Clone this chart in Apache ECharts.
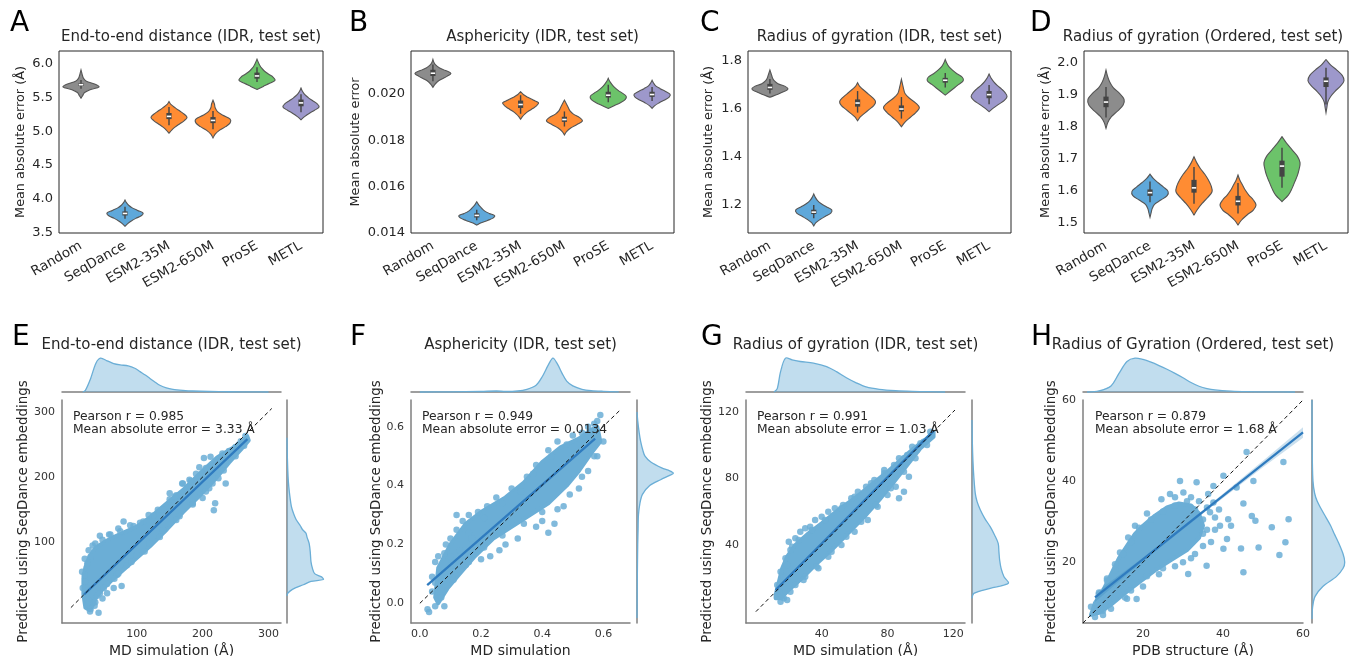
<!DOCTYPE html>
<html><head><meta charset="utf-8">
<script src="https://cdn.jsdelivr.net/npm/echarts@6.0.0/dist/echarts.min.js"></script>
<style>html,body{margin:0;padding:0;background:#fff}#c{width:1349px;height:656px}</style>
</head><body><div id="c"></div>
<script>
// ---------------- DATA ----------------
const categories = ['Random','SeqDance','ESM2-35M','ESM2-650M','ProSE','METL'];
const violinColors = ['#8c8c8c','#5fa8da','#ff8c33','#ff8c33','#6cc36a','#9d98cb'];

// Panel A: end-to-end distance MAE. ext=[min,max], box=[whiskerLo,q1,median,q3,whiskerHi], wid=density profile (min..max)
const aRange = [3.49, 6.19];
const aTicks = [3.5, 4.0, 4.5, 5.0, 5.5, 6.0];
const aExt = [[5.49,5.91],[3.59,3.98],[4.97,5.44],[4.9,5.46],[5.62,6.07],[5.17,5.64]];
const aBox = [[5.63,5.67,5.69,5.71,5.76],[3.70,3.75,3.78,3.81,3.88],[5.09,5.18,5.22,5.27,5.36],[5.03,5.12,5.16,5.21,5.30],[5.73,5.78,5.82,5.87,5.95],[5.28,5.37,5.42,5.47,5.55]];
const aWid = [
 [0,0.1,0.2,0.5,1,0.75,0.3,0.14,0.08,0.04,0],
 [0,0.15,0.35,0.6,0.9,1,0.7,0.4,0.2,0.08,0],
 [0,0.15,0.35,0.6,0.85,1,0.85,0.6,0.35,0.12,0],
 [0,0.12,0.35,0.7,0.95,0.95,0.55,0.25,0.12,0.08,0],
 [0,0.35,0.7,1,0.9,0.65,0.42,0.26,0.15,0.07,0],
 [0,0.2,0.45,0.75,1,0.9,0.65,0.4,0.2,0.08,0]];

// Panel B: asphericity MAE
const bRange = [0.014, 0.02186];
const bTicks = [0.014, 0.016, 0.018, 0.020];
const bExt = [[0.02029,0.0215],[0.01434,0.01535],[0.01891,0.0201],[0.01823,0.01974],[0.01938,0.02068],[0.01938,0.0206]];
const bBox = [[0.02055,0.02078,0.0209,0.02105,0.02128],[0.01455,0.01467,0.01476,0.01485,0.015],[0.01915,0.0194,0.01955,0.01972,0.01995],[0.0186,0.0188,0.0189,0.01902,0.01925],[0.01965,0.01985,0.01995,0.0201,0.0204],[0.0197,0.01988,0.01998,0.0201,0.0203]];
const bWid = [
 [0,0.1,0.25,0.5,0.8,1,0.7,0.35,0.15,0.05,0],
 [0,0.25,0.6,0.9,1,0.7,0.45,0.3,0.18,0.08,0],
 [0,0.1,0.25,0.45,0.7,0.9,1,0.7,0.4,0.15,0],
 [0,0.12,0.35,0.7,1,0.85,0.5,0.3,0.2,0.1,0],
 [0,0.35,0.7,0.95,1,0.8,0.55,0.35,0.2,0.08,0],
 [0,0.15,0.4,0.7,0.95,1,0.75,0.45,0.2,0.08,0]];

// Panel C: radius of gyration (IDR) MAE
const cRange = [1.083, 1.842];
const cTicks = [1.2, 1.4, 1.6, 1.8];
const cExt = [[1.649,1.7625],[1.1125,1.246],[1.551,1.71],[1.526,1.724],[1.658,1.807],[1.589,1.746]];
const cBox = [[1.665,1.68,1.69,1.705,1.725],[1.145,1.162,1.17,1.18,1.2],[1.585,1.61,1.625,1.64,1.675],[1.56,1.59,1.6,1.615,1.65],[1.69,1.71,1.72,1.73,1.75],[1.62,1.645,1.66,1.675,1.7]];
const cWid = [
 [0,0.4,0.75,1,0.85,0.45,0.25,0.15,0.1,0.05,0],
 [0,0.12,0.35,0.65,0.95,1,0.7,0.4,0.2,0.08,0],
 [0,0.15,0.4,0.65,0.9,1,0.85,0.6,0.35,0.12,0],
 [0,0.2,0.5,0.8,1,0.8,0.45,0.2,0.12,0.06,0],
 [0,0.25,0.5,0.75,1,0.95,0.65,0.4,0.2,0.08,0],
 [0,0.25,0.55,0.85,1,0.9,0.7,0.45,0.25,0.1,0]];

// Panel D: radius of gyration (Ordered) MAE
const dRange = [1.469, 2.0375];
const dTicks = [1.5, 1.6, 1.7, 1.8, 1.9, 2.0];
const dExt = [[1.796,1.978],[1.518,1.653],[1.525,1.707],[1.494,1.65],[1.567,1.77],[1.845,2.011]];
const dBox = [[1.83,1.862,1.878,1.895,1.925],[1.565,1.585,1.595,1.605,1.63],[1.56,1.595,1.61,1.635,1.675],[1.53,1.555,1.568,1.585,1.625],[1.61,1.645,1.678,1.695,1.735],[1.87,1.925,1.943,1.955,1.985]];
const dWid = [
 [0,0.1,0.3,0.65,0.95,1,0.75,0.4,0.2,0.08,0],
 [0,0.06,0.12,0.25,0.6,0.95,1,0.75,0.45,0.18,0],
 [0,0.2,0.45,0.75,1,0.95,0.8,0.6,0.35,0.15,0],
 [0,0.2,0.5,0.85,1,0.85,0.6,0.4,0.25,0.1,0],
 [0,0.35,0.55,0.7,0.85,0.95,1,0.85,0.55,0.25,0],
 [0,0.05,0.1,0.25,0.5,0.8,1,0.9,0.6,0.25,0]];

// Panel E: end-to-end distance scatter
const eX = [-13.5, 319], eY = [-23.6, 318];
const eTicks = [100, 200, 300];
const eCloud = [[22,0],[19,20],[19,45],[22,62],[28,78],[38,92],[50,100],[65,108],[80,115],[100,124],[120,138],[146,160],[170,180],[196,206],[222,230],[245,244],[262,256],[268,262],
 [270,256],[258,242],[240,222],[222,200],[196,172],[170,146],[146,120],[120,94],[100,76],[80,58],[60,40],[48,28],[38,15],[33,3],[28,-4]];
const ePoints = [[34,8],[42,-8],[26,12],[30,-2],[36,3],[77,33],[65,30],[55,22],[48,14],[40,18],[24,30],[22,40],[21,50],[25,68],[30,78],[37,98],[44,110],[72,121],[80,132],[60,112],[95,125],[110,132],[125,141],[140,150],[150,166],[160,172],[170,190],[180,196],[169,190],[190,205],[202,229],[212,231],[229,231],[235,225],[240,240],[250,246],[258,255],[265,263],[222,222],[217,149],[219,160],[235,190],[224,198],[210,183],[200,168],[185,160],[165,140],[140,118],[120,98],[100,80],[85,65],[70,50],[150,175],[195,215],[208,211],
 [18,30],[17,55],[21,75],[27,88],[33,95],[48,104],[58,112],[75,117],[90,126],[105,130],[118,142],[132,150],[158,170],[182,194],[205,214],[230,236],[255,250],[263,248],[250,232],[232,210],[215,190],[205,178],[185,158],[160,134],[135,108],[112,86],[92,70],[72,52],[55,36],[44,22],[37,8],[29,-6],[50,30],[66,44]];
const eReg = [[20,20],[268,258]];
const eIdent = [[0,0],[305,305]];
const eTopKde = [[18,0],[22,5],[30,40],[38,85],[45,100],[55,92],[65,84],[75,80],[87,77],[97,70],[105,60],[113,50],[120,40],[128,29],[135,20],[145,12],[155,8],[170,5],[185,3],[210,1.5],[240,0.8],[280,0.3],[300,0]];
const eRightKde = [[18,0],[22,2],[28,15],[35,45],[40,66],[43,100],[47,95],[52,76],[60,70],[70,66],[85,64],[98,61],[108,55],[114,52],[120,42],[125,37],[135,25],[144,18],[155,12],[170,8],[185,5],[200,3],[230,1],[260,0]];

// Panel F: asphericity scatter
const fX = [-0.029, 0.687], fY = [-0.067, 0.691];
const fTicks = [0, 0.2, 0.4, 0.6];
const fCloud = [[0.05,0.02],[0.06,0.12],[0.1,0.2],[0.15,0.27],[0.2,0.31],[0.28,0.36],[0.34,0.41],[0.4,0.48],[0.46,0.53],[0.52,0.56],[0.56,0.59],[0.58,0.6],
 [0.59,0.55],[0.56,0.51],[0.52,0.45],[0.48,0.4],[0.42,0.34],[0.36,0.3],[0.3,0.26],[0.24,0.22],[0.18,0.16],[0.13,0.1],[0.09,0.05],[0.06,0.0]];
const fPoints = [[0.03,-0.03],[0.025,-0.02],[0.08,-0.01],[0.04,0.04],[0.05,0.07],[0.07,0.1],[0.06,0.16],[0.085,0.2],[0.1,0.22],[0.12,0.25],[0.12,0.3],[0.14,0.28],[0.16,0.3],[0.19,0.31],[0.22,0.33],[0.25,0.36],[0.3,0.39],[0.35,0.43],[0.38,0.47],[0.42,0.52],[0.45,0.55],[0.5,0.57],[0.55,0.6],[0.59,0.64],[0.57,0.61],[0.11,0.13],[0.15,0.13],[0.2,0.15],[0.23,0.16],[0.26,0.18],[0.28,0.2],[0.32,0.22],[0.42,0.24],[0.44,0.27],[0.4,0.28],[0.38,0.26],[0.47,0.33],[0.52,0.39],[0.55,0.45],[0.58,0.5],[0.6,0.55],[0.09,0.08],[0.13,0.18],[0.17,0.22],
 [0.04,0.09],[0.05,0.14],[0.08,0.17],[0.1,0.16],[0.16,0.24],[0.21,0.29],[0.27,0.34],[0.33,0.38],[0.37,0.44],[0.43,0.5],[0.48,0.54],[0.53,0.58],[0.58,0.62],[0.57,0.5],[0.53,0.43],[0.49,0.37],[0.45,0.32],[0.4,0.31],[0.34,0.27],[0.27,0.23],[0.21,0.19],[0.16,0.14],[0.11,0.08],[0.07,0.02],[0.05,-0.01]];
const fReg = [[0.024,0.062],[0.573,0.56]];
const fIdent = [[0,0],[0.655,0.657]];
const fTopKde = [[0.0,0],[0.1,0.5],[0.2,1.5],[0.25,3],[0.28,1.5],[0.32,3],[0.35,8],[0.38,20],[0.4,45],[0.42,80],[0.435,100],[0.45,82],[0.465,55],[0.48,32],[0.5,18],[0.53,8],[0.56,4],[0.6,2],[0.65,0.5]];
const fRightKde = [[-0.05,0],[0.1,1],[0.2,2],[0.25,3],[0.3,4],[0.34,8],[0.37,15],[0.4,35],[0.42,65],[0.435,90],[0.442,100],[0.45,90],[0.46,68],[0.48,38],[0.5,22],[0.52,16],[0.55,10],[0.58,6],[0.62,2],[0.65,0]];

// Panel G: radius of gyration (IDR) scatter
const gX = [-6, 127.1], gY = [-6.8, 127];
const gTicks = [40, 80, 120];
const gCloud = [[12,10],[14,18],[16,26],[19,33],[24,40],[32,47],[40,53],[50,61],[60,68],[70,76],[80,84],[88,91],[96,98],[104,104],[108,108],
 [108,105],[100,98],[92,88],[84,78],[75,67],[66,57],[56,47],[46,37],[36,28],[28,20],[20,13],[15,8],[12,8]];
const gPoints = [[15,6],[17,8],[19,7],[14,12],[17,21],[19,28],[20,42],[22,39],[24,44],[27,48],[30,50],[33,51],[36,55],[40,57],[44,60],[48,62],[53,64],[58,68],[62,72],[67,75],[72,79],[78,83],[84,88],[87,92],[90,92],[92,94],[98,97],[102,102],[106,108],[88,87],[93,81],[87,68],[90,72],[85,75],[80,70],[74,63],[68,55],[60,48],[52,40],[44,33],[38,26],[30,21],[24,16],
 [13,16],[15,24],[18,32],[21,37],[26,43],[34,49],[42,55],[52,62],[60,69],[70,77],[78,85],[95,99],[100,101],[104,100],[97,92],[90,84],[82,74],[73,64],[64,54],[55,45],[46,36],[37,27],[29,19],[21,12],[16,9]];
const gReg = [[12,13],[108,108.5]];
const gIdent = [[0,0],[121,121]];
const gTopKde = [[11,0],[13,10],[15,60],[18,100],[22,95],[27,90],[35,85],[43,75],[49,60],[55,42],[61,27],[67,15],[75,8],[85,4],[95,2],[106,1],[115,0]];
const gRightKde = [[8,0],[11,5],[14,50],[17,100],[21,88],[26,80],[31,76],[36,74],[41,72],[46,62],[51,50],[56,35],[61,23],[66,14],[71,9],[81,5],[91,2.5],[101,1],[115,0]];

// Panel H: radius of gyration (Ordered) scatter
const hX = [5, 60], hY = [5, 60];
const hTicks = [20, 40, 60];
const hCloud = [[7,7],[8,10],[10,13],[12,17],[14,21],[16,24],[18,27],[20,29],[23,31.5],[26,33.5],[29,34.5],[32,34],
 [34,32],[35,29],[34,26],[31,23],[27,20.5],[23,18],[19,15],[15,12],[12,9.5],[9,7.5]];
const hPoints = [[45.9,47.2],[55.1,44.7],[43.4,38.4],[47.6,40],[33.4,39.7],[29.25,40],[30.1,37.2],[37.6,38.8],[40.1,41.3],[45.1,34.5],[47.2,31.4],[48.1,30.2],[56.4,30.6],[52.2,28.6],[55.6,24.9],[48.9,23.6],[44.5,23.4],[54.1,21.8],[45.1,17.5],[40.1,23.3],[41,25.7],[39.25,29],[35.9,19.1],[31.3,17.1],[36.75,32.3],[38,31],[37.6,34.7],[41.3,30.6],[16.3,26.1],[14.25,22.4],[24.6,35.5],[26.75,36.8],[36.3,36.8],[15.5,11.3],[18.4,10.9],[9.25,10.9],[21,32],[18,29],[13,19.5],[11,16],[28,36],[32,36],[34,35],[36,33.5],[38,28],[37,25],[33,22],[30,20],[25,18.5],[21,16.5],[17,13],[13,11],[10,8],[8,6.5],[42,29],[39,33],[35,27],
 [7,9],[9,12.5],[11,15.5],[13,18],[15,22],[17,25],[19,28.5],[22,30.5],[25,32.5],[28,34],[31,35],[33,33],[35,30.5],[36,28],[35,24],[32,21],[28,19],[24,17],[20,14],[16,11],[12,8.5],[10,7]];
const hReg = [[8,11.3],[60,52]];
const hIdent = [[5,5],[60,60]];
const hBandLo = [[8,10.2],[20,20.3],[35,32.0],[50,43.4],[60,50.7]];
const hBandHi = [[8,12.4],[20,21.1],[35,32.8],[50,45],[60,53.3]];
const hTopKde = [[6,0],[9,3],[12,18],[14,55],[16,90],[18,100],[20,96],[22,88],[24,78],[26,67],[28,55],[30,42],[32,28],[34,17],[36,10],[38,6],[42,2.5],[46,1],[52,0.3],[58,0]];
const hRightKde = [[6,0],[9,2],[11.5,9],[14,33],[16.5,75],[18.5,95],[20,100],[22,95],[25,80],[27,68],[29,57],[31,43],[33,29],[35,16],[37,8],[40,3],[45,1],[52,0.3],[60,0]];

// ---------------- CHART ----------------
const FONT = 'DejaVu Sans';
const TXT = '#262626';
const PT = '#6baed6';
const chart = echarts.init(document.getElementById('c'));

const topPanels = [
 {left:59, width:264, range:aRange, ticks:aTicks, fmt:1, ext:aExt, box:aBox, wid:aWid, title:'End-to-end distance (IDR, test set)', yname:'Mean absolute error (Å)', gap:32, letter:'A', lx:10},
 {left:411, width:263, range:bRange, ticks:bTicks, fmt:3, ext:bExt, box:bBox, wid:bWid, title:'Asphericity (IDR, test set)', yname:'Mean absolute error', gap:49, letter:'B', lx:349},
 {left:748, width:263, range:cRange, ticks:cTicks, fmt:1, ext:cExt, box:cBox, wid:cWid, title:'Radius of gyration (IDR, test set)', yname:'Mean absolute error (Å)', gap:33, letter:'C', lx:700},
 {left:1084, width:264, range:dRange, ticks:dTicks, fmt:1, ext:dExt, box:dBox, wid:dWid, title:'Radius of gyration (Ordered, test set)', yname:'Mean absolute error (Å)', gap:32, letter:'D', lx:1030, tcx:1203}
];

const botPanels = [
 {left:62, width:219, rl:287, xr:eX, yr:eY, xt:eTicks, yt:eTicks, fmt:0, cloud:eCloud, pts:ePoints, reg:eReg, iden:eIdent, topK:eTopKde, rightK:eRightKde, xname:'MD simulation (Å)', ygap:28, title:'End-to-end distance (IDR, test set)', s1:'Pearson r = 0.985', s2:'Mean absolute error = 3.33 Å', tx:73, letter:'E', lx:12},
 {left:411, width:219, rl:637, xr:fX, yr:fY, xt:fTicks, yt:fTicks, fmt:1, cloud:fCloud, pts:fPoints, reg:fReg, iden:fIdent, topK:fTopKde, rightK:fRightKde, xname:'MD simulation', ygap:26, title:'Asphericity (IDR, test set)', s1:'Pearson r = 0.949', s2:'Mean absolute error = 0.0134', tx:422, letter:'F', lx:350},
 {left:746, width:219, rl:972, xr:gX, yr:gY, xt:gTicks, yt:gTicks, fmt:0, cloud:gCloud, pts:gPoints, reg:gReg, iden:gIdent, topK:gTopKde, rightK:gRightKde, xname:'MD simulation (Å)', ygap:31, title:'Radius of gyration (IDR, test set)', s1:'Pearson r = 0.991', s2:'Mean absolute error = 1.03 Å', tx:757, letter:'G', lx:701},
 {left:1083, width:220, rl:1312, xr:hX, yr:hY, xt:hTicks, yt:hTicks, fmt:0, cloud:hCloud, pts:hPoints, reg:hReg, iden:hIdent, topK:hTopKde, rightK:hRightKde, xname:'PDB structure (Å)', ygap:16, title:'Radius of Gyration (Ordered, test set)', s1:'Pearson r = 0.879', s2:'Mean absolute error = 1.68 Å', tx:1095, letter:'H', lx:1031, band:true}
];

function violinRender(p){
  return function(params, api){
    const i = params.dataIndex;
    const band = api.size([1,0])[0];
    const maxHw = band*0.41;
    const lo = p.ext[i][0], hi = p.ext[i][1];
    const w = p.wid[i], n = w.length;
    const right = [], left = [];
    for (let k=0;k<n;k++){
      const c = api.coord([i, lo + (hi-lo)*k/(n-1)]);
      right.push([c[0] + w[k]*maxHw, c[1]]);
      left.push([c[0] - w[k]*maxHw, c[1]]);
    }
    const poly = right.concat(left.reverse());
    const b = p.box[i];
    const cw0 = api.coord([i,b[0]]), cq1 = api.coord([i,b[1]]), cm = api.coord([i,b[2]]), cq3 = api.coord([i,b[3]]), cw1 = api.coord([i,b[4]]);
    return {type:'group', children:[
      {type:'polygon', shape:{points:poly, smooth:0.35}, style:{fill:violinColors[i], stroke:'#555', lineWidth:1.1}},
      {type:'line', shape:{x1:cw0[0], y1:cw0[1], x2:cw1[0], y2:cw1[1]}, style:{stroke:'#444', lineWidth:1.4}},
      {type:'rect', shape:{x:cq3[0]-2.6, y:cq3[1], width:5.2, height:cq1[1]-cq3[1]}, style:{fill:'#444'}},
      {type:'rect', shape:{x:cm[0]-2.2, y:cm[1]-0.8, width:4.4, height:1.6}, style:{fill:'#fff'}}
    ]};
  };
}
function polyRender(pts, fill, sw){
  return function(params, api){
    return {type:'polygon', shape:{points:pts.map(d=>api.coord(d))}, style:{fill:fill, stroke:fill, lineWidth:sw, lineJoin:'round'}};
  };
}
function bandRender(lo, hi){
  return function(params, api){
    const pts = lo.map(d=>api.coord(d)).concat(hi.slice().reverse().map(d=>api.coord(d)));
    return {type:'polygon', shape:{points:pts}, style:{fill:'rgba(49,130,189,0.25)'}};
  };
}
function kdeRender(curve, vertical){
  return function(params, api){
    const pts = curve.map(d => vertical ? api.coord([d[1], d[0]]) : api.coord([d[0], d[1]]));
    const f = curve[0][0], l = curve[curve.length-1][0];
    const b0 = vertical ? api.coord([0, f]) : api.coord([f, 0]);
    const b1 = vertical ? api.coord([0, l]) : api.coord([l, 0]);
    return {type:'group', children:[
      {type:'polygon', shape:{points:[b0].concat(pts,[b1])}, style:{fill:'rgba(107,174,214,0.42)'}},
      {type:'polyline', shape:{points:pts, smooth:0.3}, style:{stroke:PT, lineWidth:1.3, fill:null}}
    ]};
  };
}

const option = {animation:false, backgroundColor:'#fff', textStyle:{fontFamily:FONT}, grid:[], xAxis:[], yAxis:[], series:[], graphic:[]};

topPanels.forEach((p,k)=>{
  option.grid.push({left:p.left, top:51, width:p.width, height:182, show:true, borderColor:'#262626', borderWidth:1, backgroundColor:'transparent', containLabel:false, outerBoundsMode:'none'});
  option.xAxis.push({type:'category', gridIndex:k, data:categories, boundaryGap:true, axisLine:{show:false}, axisTick:{show:false}, splitLine:{show:false},
    axisLabel:{rotate:30, interval:0, fontSize:13.5, color:TXT, margin:12, fontFamily:FONT}});
  option.yAxis.push({type:'value', gridIndex:k, min:p.range[0], max:p.range[1], axisLine:{show:false}, axisTick:{show:false}, splitLine:{show:false},
    axisLabel:{customValues:p.ticks, formatter:(v)=>Number(v).toFixed(p.fmt), fontSize:13, color:TXT, margin:6, fontFamily:FONT},
    name:p.yname, nameLocation:'middle', nameGap:p.gap, nameTextStyle:{fontSize:12.8, color:TXT, fontFamily:FONT}});
  option.series.push({type:'custom', xAxisIndex:k, yAxisIndex:k, clip:false, data:categories.map((c,i)=>[i, p.box[i][2]]), renderItem:violinRender(p)});
  option.graphic.push({type:'text', x:(p.tcx || (p.left + p.width/2)), y:37, style:{text:p.title, textAlign:'center', textVerticalAlign:'middle', fontSize:15, fill:TXT, fontFamily:FONT}});
  option.graphic.push({type:'text', x:p.lx, y:24, style:{text:p.letter, textVerticalAlign:'middle', fontSize:28, fill:'#000', fontFamily:FONT}});
});

botPanels.forEach((p,j)=>{
  const gm = 4+j, gt = 8+j, gr = 12+j;
  const spine = {show:true, onZero:false, lineStyle:{color:'#7f7f7f', width:1.5}};
  const lab = {fontSize:11, color:'#333', fontFamily:FONT, formatter:(v)=>Number(v).toFixed(p.fmt)};
  option.grid[gm] = {left:p.left, top:400, width:p.width, height:223, containLabel:false, outerBoundsMode:'none'};
  option.grid[gt] = {left:p.left, top:352, width:p.width, height:40, containLabel:false, outerBoundsMode:'none'};
  option.grid[gr] = {left:p.rl, top:400, width:(j===3?36:40), height:223, containLabel:false, outerBoundsMode:'none'};
  option.xAxis[gm] = {type:'value', gridIndex:gm, min:p.xr[0], max:p.xr[1], axisLine:spine, axisTick:{show:false}, splitLine:{show:false},
    axisLabel:Object.assign({customValues:p.xt, margin:6}, lab), name:p.xname, nameLocation:'middle', nameGap:21, nameTextStyle:{fontSize:14, color:TXT, fontFamily:FONT}};
  option.yAxis[gm] = {type:'value', gridIndex:gm, min:p.yr[0], max:p.yr[1], axisLine:spine, axisTick:{show:false}, splitLine:{show:false},
    axisLabel:Object.assign({customValues:p.yt, margin:7}, lab), name:'Predicted using SeqDance embeddings', nameLocation:'middle', nameGap:p.ygap, nameTextStyle:{fontSize:13.4, color:TXT, fontFamily:FONT}};
  option.xAxis[gt] = {type:'value', gridIndex:gt, min:p.xr[0], max:p.xr[1], axisLine:spine, axisTick:{show:false}, axisLabel:{show:false}, splitLine:{show:false}};
  option.yAxis[gt] = {type:'value', gridIndex:gt, min:0, max:118, show:false};
  option.xAxis[gr] = {type:'value', gridIndex:gr, min:0, max:110, show:false};
  option.yAxis[gr] = {type:'value', gridIndex:gr, min:p.yr[0], max:p.yr[1], axisLine:spine, axisTick:{show:false}, axisLabel:{show:false}, splitLine:{show:false}};

  option.series.push({type:'custom', xAxisIndex:gm, yAxisIndex:gm, z:1, data:[p.cloud[0]], renderItem:polyRender(p.cloud, PT, 4)});
  option.series.push({type:'scatter', xAxisIndex:gm, yAxisIndex:gm, z:2, data:p.pts, symbolSize:6.5, itemStyle:{color:PT, opacity:0.85}});
  if (p.band) option.series.push({type:'custom', xAxisIndex:gm, yAxisIndex:gm, z:3, data:[hBandLo[0]], renderItem:bandRender(hBandLo, hBandHi)});
  option.series.push({type:'line', xAxisIndex:gm, yAxisIndex:gm, z:4, data:p.reg, showSymbol:false, symbol:'none', lineStyle:{color:'#2f7bbf', width:2.3}});
  option.series.push({type:'line', xAxisIndex:gm, yAxisIndex:gm, z:5, data:p.iden, showSymbol:false, symbol:'none', lineStyle:{color:'#111', width:1, type:[4,3]}});
  option.series.push({type:'custom', xAxisIndex:gt, yAxisIndex:gt, data:[p.topK[0]], renderItem:kdeRender(p.topK, false)});
  option.series.push({type:'custom', xAxisIndex:gr, yAxisIndex:gr, data:[[0, p.rightK[0][0]]], renderItem:kdeRender(p.rightK, true)});

  option.graphic.push({type:'text', x:p.left + p.width/2, y:345, style:{text:p.title, textAlign:'center', textVerticalAlign:'middle', fontSize:15, fill:TXT, fontFamily:FONT}});
  option.graphic.push({type:'text', x:p.lx, y:338, style:{text:p.letter, textVerticalAlign:'middle', fontSize:28, fill:'#000', fontFamily:FONT}});
  option.graphic.push({type:'text', x:p.tx, y:416.5, z:20, style:{text:p.s1, textVerticalAlign:'middle', fontSize:12.3, fill:TXT, fontFamily:FONT}});
  option.graphic.push({type:'text', x:p.tx, y:429.5, z:20, style:{text:p.s2, textVerticalAlign:'middle', fontSize:12.3, fill:TXT, fontFamily:FONT}});
});

chart.setOption(option);
</script></body></html>
